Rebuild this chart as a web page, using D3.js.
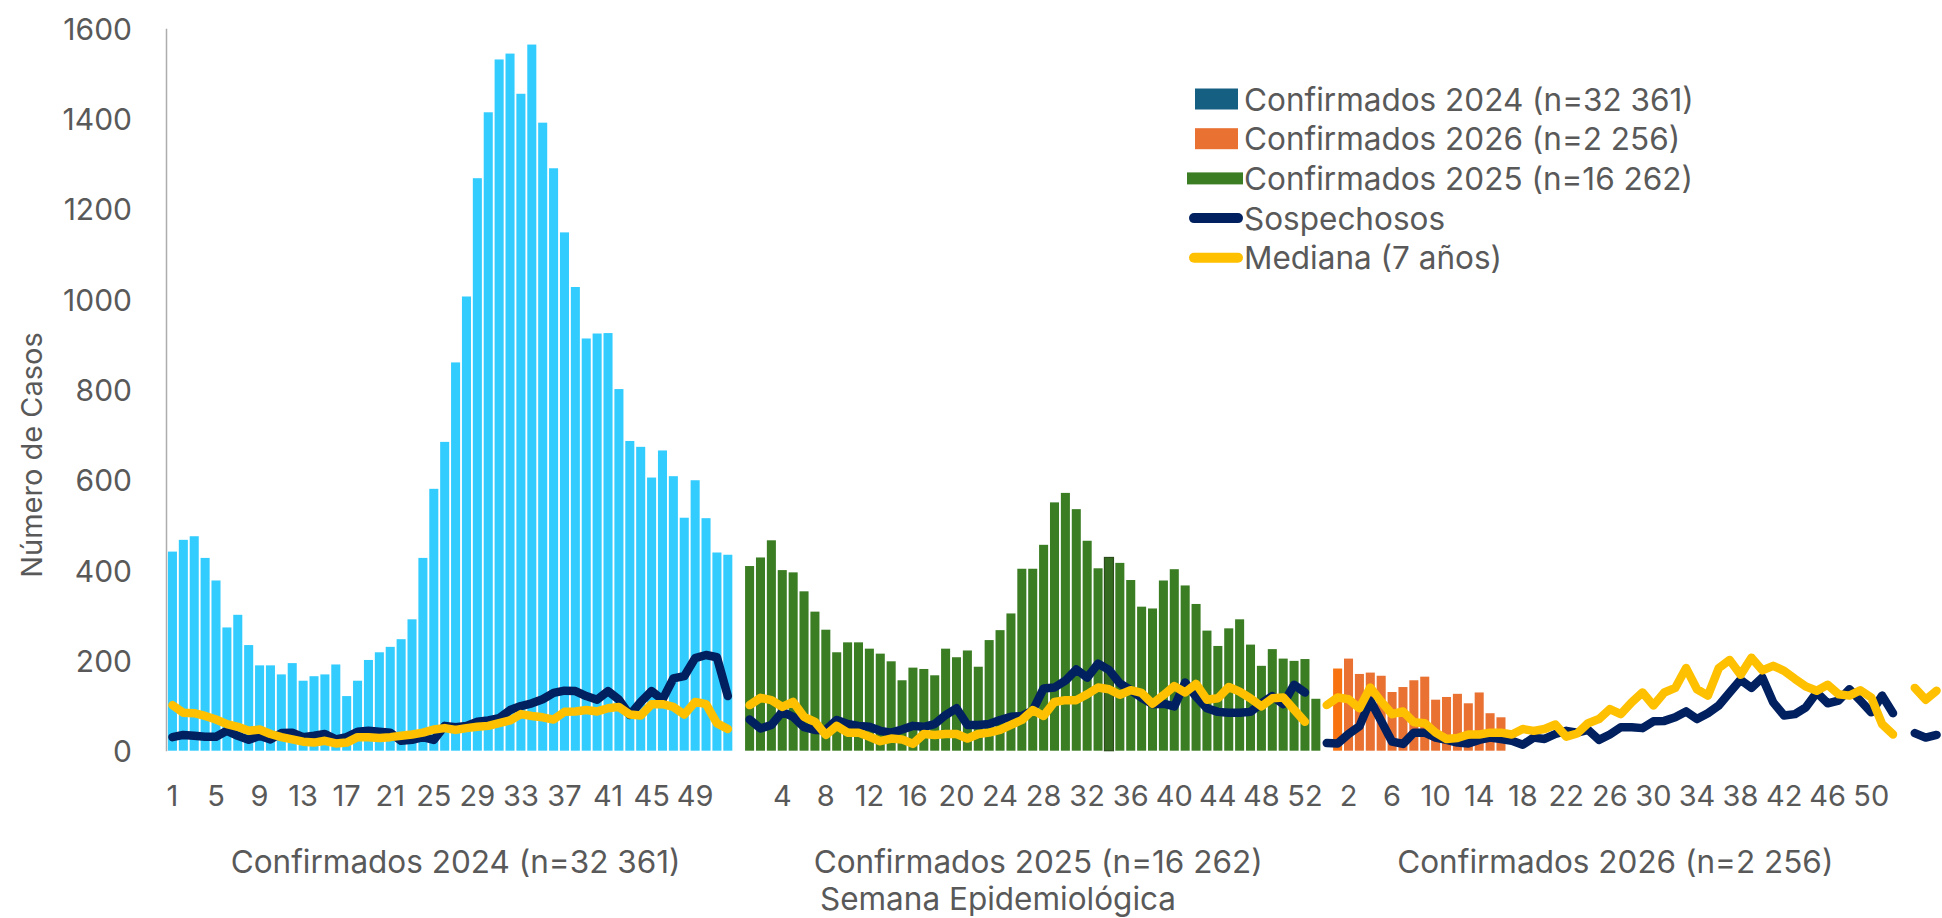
<!DOCTYPE html>
<html>
<head>
<meta charset="utf-8">
<title>Casos por semana epidemiológica</title>
<style>
    body { margin: 0; background: #fff; }
    text { font-family: "Inter", "Liberation Sans", sans-serif; fill: #595959; }
</style>
</head>
<body>
<div id="chart"></div>
<script src="https://d3js.org/d3.v7.min.js"></script>
<script>

    // category axis: one group per year, week labels under each bar slot
    var groupNames = ["Confirmados 2024 (n=32 361)", "Confirmados 2025 (n=16 262)", "Confirmados 2026 (n=2 256)", ""];
    var weekLabels2024 = d3.range(1, 53).concat([""]);
    var weekLabels2025 = d3.range(1, 53).concat(["", ""]);
    var weekLabels2026 = d3.range(1, 53);
    var weekLabelsTail = ["", "", "", ""];

    // confirmed cases (bars)
    var conf2024 = [441, 467, 475, 427, 377, 273, 301, 234, 189, 189,
                    169, 194, 155, 165, 169, 191, 121, 155, 201, 218,
                    230, 247, 291, 427, 580, 684, 860, 1006, 1268, 1414,
                    1531, 1544, 1455, 1564, 1391, 1290, 1148, 1027, 913, 924,
                    925, 801, 686, 673, 605, 665, 608, 516, 599, 515,
                    439, 434];
    var conf2025 = [409, 428, 466, 400, 395, 353, 308, 268, 218, 240,
                    240, 226, 215, 198, 156, 184, 181, 167, 226, 207,
                    222, 186, 245, 267, 304, 403, 403, 456, 550, 571,
                    535, 465, 404, 428, 416, 378, 319, 315, 377, 402,
                    366, 325, 266, 232, 271, 291, 235, 188, 225, 204,
                    199, 203, 115];
    var conf2026 = [182, 204, 170, 173, 166, 130, 141, 156, 164, 113,
                    119, 126, 105, 129, 83, 74];

    // suspected cases (line), one entry per slot, null = gap
    var sosp2024 = [30, 35, 33, 31, 31, 44, 33, 24, 33, 25,
                    39, 40, 30, 33, 37, 25, 30, 42, 44, 42,
                    40, 22, 24, 30, 24, 55, 52, 55, 64, 67,
                    72, 90, 99, 105, 114, 128, 133, 132, 121, 113,
                    132, 113, 79, 108, 132, 113, 160, 165, 205, 212,
                    207, 121, null];
    var sosp2025 = [69, 49, 57, 86, 75, 52, 46, 46, 68, 59,
                    55, 53, 44, 40, 47, 55, 53, 59, 79, 94,
                    57, 57, 59, 68, 75, 77, 89, 138, 140, 155,
                    180, 162, 193, 179, 149, 134, 117, 103, 104, 98,
                    151, 120, 94, 86, 84, 84, 86, 105, 121, 103,
                    146, 129, null, 17];
    var sosp2026 = [16, 37, 54, 111, 66, 20, 15, 40, 40, 29,
                    24, 18, 16, 24, 29, 26, 22, 13, 29, 26,
                    37, 44, 40, 46, 24, 36, 52, 52, 50, 65,
                    66, 74, 87, 70, 83, 100, 129, 157, 139, 162,
                    107, 78, 81, 96, 129, 105, 111, 136, 111, 85,
                    122, 83];
    var sospTail = [null, 39, 29, 35];

    // median of 7 years (line)
    var med2024 = [101, 84, 83, 77, 69, 59, 53, 44, 47, 37,
                   30, 25, 20, 18, 22, 16, 18, 30, 30, 28,
                   30, 33, 36, 40, 47, 50, 46, 50, 53, 55,
                   61, 67, 81, 77, 74, 69, 86, 87, 90, 87,
                   94, 97, 80, 78, 103, 103, 97, 80, 108, 103,
                   61, 48, null];
    var med2025 = [101, 117, 112, 97, 108, 75, 64, 35, 55, 40,
                   40, 31, 21, 27, 25, 15, 37, 35, 37, 37,
                   27, 37, 40, 46, 57, 68, 90, 77, 108, 112,
                   112, 125, 140, 136, 124, 134, 128, 104, 123, 143,
                   129, 148, 113, 116, 141, 131, 116, 98, 116, 118,
                   91, 64, null, 101];
    var med2026 = [118, 114, 94, 140, 109, 81, 87, 63, 61, 40,
                   26, 28, 36, 36, 40, 40, 36, 48, 44, 48,
                   58, 31, 38, 61, 70, 92, 81, 107, 129, 100,
                   129, 139, 183, 136, 122, 183, 201, 168, 206, 178,
                   188, 177, 159, 142, 133, 146, 125, 122, 134, 118,
                   59, 36];
    var medTail = [null, 139, 113, 133];

    var yTicks = [0, 200, 400, 600, 800, 1000, 1200, 1400, 1600];

    var legendItems = [
        {name: "Confirmados 2024 (n=32 361)", kind: "box", color: "#156082"},
        {name: "Confirmados 2026 (n=2 256)", kind: "box", color: "#E97132"},
        {name: "Confirmados 2025 (n=16 262)", kind: "wide", color: "#3B7D23"},
        {name: "Sospechosos", kind: "line", color: "#002060"},
        {name: "Mediana (7 años)", kind: "line", color: "#FFC000"}
    ];

    // ---- build the flat category list
    var groupWeeks = [weekLabels2024, weekLabels2025, weekLabels2026, weekLabelsTail];
    var cats = [];
    groupWeeks.forEach(function(weeks, g) {
        weeks.forEach(function(w, i) {
            cats.push({key: g + "-" + i, group: g, label: String(w), index: cats.length});
        });
    });
    var sosp = sosp2024.concat(sosp2025, sosp2026, sospTail);
    var med = med2024.concat(med2025, med2026, medTail);

    var barSets = [
        {group: 0, values: conf2024, color: "#33CCFF"},
        {group: 1, values: conf2025, color: "#3B7D23"},
        {group: 2, values: conf2026, color: "#E97132"}
    ];
    var bars = [];
    barSets.forEach(function(s) {
        s.values.forEach(function(v, i) {
            bars.push({key: s.group + "-" + i, value: v, color: s.color});
        });
    });
    // two points were highlighted in the original sheet
    bars.forEach(function(b) {
        if (b.key === "1-33") { b.color = "#356B20"; b.stroke = "#2A4D1B"; }
        if (b.key === "2-0") { b.color = "#F8720F"; }
    });

    var width = 1942, height = 918;

    var svg = d3.select('#chart')
        .append('svg')
        .attr('width', width)
        .attr('height', height);

    var x = d3.scaleBand()
        .domain(cats.map(function(c) { return c.key; }))
        .range([167, 1942])
        .paddingInner(0.17)
        .paddingOuter(0.085);

    var y = d3.scaleLinear()
        .domain([0, 1600])
        .range([750.7, 28.3]);

    function cx(key) { return x(key) + x.bandwidth() / 2; }

    // bars
    svg.append('g').selectAll('rect')
        .data(bars)
        .enter()
        .append('rect')
        .attr('x', function(d) { return x(d.key); })
        .attr('width', x.bandwidth())
        .attr('y', function(d) { return y(d.value); })
        .attr('height', function(d) { return y(0) - y(d.value); })
        .attr('fill', function(d) { return d.color; })
        .attr('stroke', function(d) { return d.stroke || 'none'; })
        .attr('stroke-width', 1.2);

    // lines
    var line = d3.line()
        .defined(function(d) { return d.v != null; })
        .x(function(d) { return cx(d.key); })
        .y(function(d) { return y(d.v); });

    function series(vals) {
        return cats.map(function(c, i) { return {key: c.key, v: vals[i]}; });
    }

    [[sosp, "#002060"], [med, "#FFC000"]].forEach(function(s) {
        svg.append('path')
            .datum(series(s[0]))
            .attr('d', line)
            .attr('fill', 'none')
            .attr('stroke', s[1])
            .attr('stroke-width', 8.5)
            .attr('stroke-linejoin', 'round')
            .attr('stroke-linecap', 'round');
    });

    // y axis
    var yAxis = svg.append('g')
        .attr('transform', 'translate(166,0)')
        .call(d3.axisLeft(y).tickValues(yTicks).tickFormat(d3.format('d'))
            .tickSize(0).tickSizeOuter(0).tickPadding(34));
    yAxis.select('.domain').attr('stroke', '#ADADAD').attr('stroke-width', 1.5);
    yAxis.selectAll('text')
        .attr('dy', null)
        .attr('dominant-baseline', 'central')
        .style('font-family', '"Inter", sans-serif')
        .style('font-size', '30px');

    // x axis: every 4th slot gets its week number
    var tickKeys = cats.filter(function(c) { return c.index % 4 === 0 && c.label !== ""; })
        .map(function(c) { return c.key; });
    var labelOf = {};
    cats.forEach(function(c) { labelOf[c.key] = c.label; });

    var xAxis = svg.append('g')
        .attr('transform', 'translate(0,' + y(0) + ')')
        .call(d3.axisBottom(x).tickValues(tickKeys).tickSize(0)
            .tickFormat(function(k) { return labelOf[k]; }));
    xAxis.select('.domain').remove();
    xAxis.selectAll('text')
        .attr('y', 796 - y(0))
        .attr('dy', null)
        .attr('dominant-baseline', 'central')
        .style('font-family', '"Inter", sans-serif')
        .style('font-size', '29px');

    // group labels under the weeks
    groupNames.forEach(function(name, g) {
        if (!name) return;
        var keys = cats.filter(function(c) { return c.group === g; });
        var mid = (cx(keys[0].key) + cx(keys[keys.length - 1].key)) / 2;
        svg.append('text')
            .attr('x', mid)
            .attr('y', 861)
            .attr('text-anchor', 'middle')
            .attr('dominant-baseline', 'central')
            .style('font-size', '31.5px')
            .text(name);
    });

    // axis titles
    svg.append('text')
        .attr('x', 998)
        .attr('y', 898)
        .attr('text-anchor', 'middle')
        .attr('dominant-baseline', 'central')
        .style('font-size', '31.5px')
        .text('Semana Epidemiológica');

    svg.append('text')
        .attr('transform', 'translate(31,455) rotate(-90)')
        .attr('text-anchor', 'middle')
        .attr('dominant-baseline', 'central')
        .style('font-size', '29px')
        .text('Número de Casos');

    // legend
    var legend = svg.selectAll('.legend')
        .data(legendItems)
        .enter()
        .append('g')
        .attr('class', 'legend')
        .attr('transform', function(d, i) { return 'translate(1244,' + (99 + i * 39.7) + ')'; });

    legend.filter(function(d) { return d.kind === 'box'; })
        .append('rect')
        .attr('x', -49).attr('y', -10.5)
        .attr('width', 43).attr('height', 21)
        .attr('fill', function(d) { return d.color; });

    legend.filter(function(d) { return d.kind === 'wide'; })
        .append('rect')
        .attr('x', -57).attr('y', -6)
        .attr('width', 56).attr('height', 12)
        .attr('fill', function(d) { return d.color; });

    legend.filter(function(d) { return d.kind === 'line'; })
        .append('line')
        .attr('x1', -50).attr('x2', -6)
        .attr('y1', 0).attr('y2', 0)
        .attr('stroke', function(d) { return d.color; })
        .attr('stroke-width', 10)
        .attr('stroke-linecap', 'round');

    legend.append('text')
        .attr('x', 0)
        .attr('y', 0)
        .attr('dominant-baseline', 'central')
        .style('font-size', '31.5px')
        .text(function(d) { return d.name; });

</script>
</body>
</html>
